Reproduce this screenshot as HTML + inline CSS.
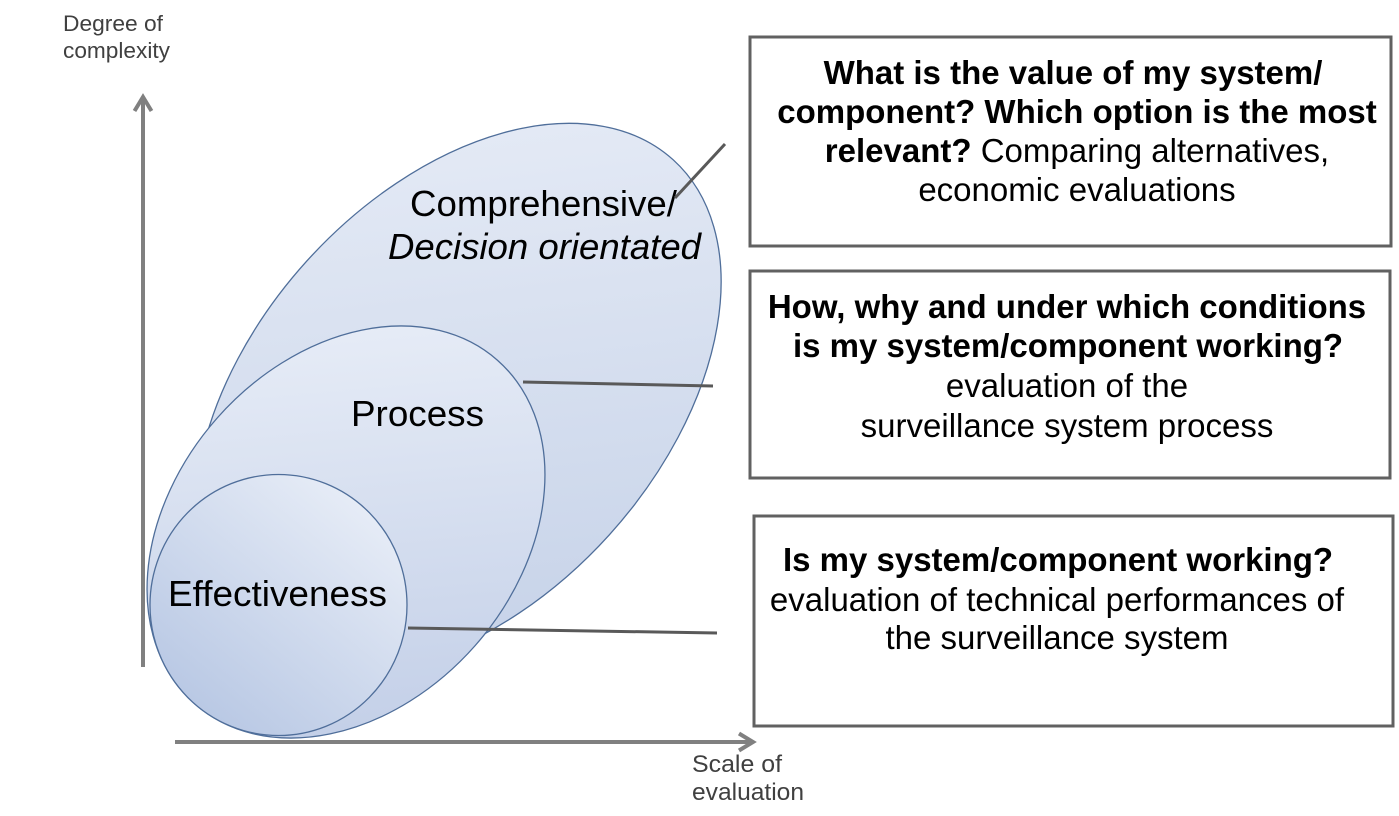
<!DOCTYPE html>
<html>
<head>
<meta charset="utf-8">
<style>
  html,body{margin:0;padding:0;background:#fff;}
  svg{display:block;}
  text{font-family:"Liberation Sans", Arial, sans-serif;}
</style>
</head>
<body>
<svg width="1399" height="816" viewBox="0 0 1399 816" xmlns="http://www.w3.org/2000/svg">
  <defs>
    <linearGradient id="gBig" gradientUnits="userSpaceOnUse" x1="700" y1="150" x2="260" y2="660">
      <stop offset="0" stop-color="#e8edf7"/>
      <stop offset="1" stop-color="#c3d0e7"/>
    </linearGradient>
    <linearGradient id="gProc" gradientUnits="userSpaceOnUse" x1="520" y1="350" x2="170" y2="720">
      <stop offset="0" stop-color="#eaeff8"/>
      <stop offset="1" stop-color="#bfcce6"/>
    </linearGradient>
    <linearGradient id="gEff" gradientUnits="userSpaceOnUse" x1="380" y1="490" x2="190" y2="725">
      <stop offset="0" stop-color="#eaeff8"/>
      <stop offset="1" stop-color="#b6c6e3"/>
    </linearGradient>
  </defs>

  <!-- axes -->
  <g stroke="#808080" stroke-width="4" fill="none" stroke-linecap="butt">
    <line x1="143" y1="667" x2="143" y2="98"/>
    <polyline points="134.5,111 143,97 151.5,111" stroke-linejoin="miter"/>
    <line x1="175" y1="742" x2="752" y2="742"/>
    <polyline points="739,733.5 753,742 739,750.5" stroke-linejoin="miter"/>
  </g>

  <!-- axis labels -->
  <g fill="#404040" font-size="22">
    <text x="63" y="31" textLength="100" lengthAdjust="spacingAndGlyphs">Degree of</text>
    <text x="63" y="58" textLength="107" lengthAdjust="spacingAndGlyphs">complexity</text>
  </g>
  <g fill="#404040" font-size="24">
    <text x="692" y="772" textLength="90" lengthAdjust="spacingAndGlyphs">Scale of</text>
    <text x="692" y="800" textLength="112" lengthAdjust="spacingAndGlyphs">evaluation</text>
  </g>

  <!-- ellipses -->
  <ellipse cx="458" cy="398" rx="321" ry="204" transform="rotate(-47.9 458 398)" fill="url(#gBig)" stroke="#4f6e9a" stroke-width="1.3"/>
  <ellipse cx="346" cy="532" rx="229" ry="172" transform="rotate(-48.6 346 532)" fill="url(#gProc)" stroke="#4f6e9a" stroke-width="1.3"/>
  <ellipse cx="278.5" cy="605" rx="128.5" ry="130.5" fill="url(#gEff)" stroke="#4f6e9a" stroke-width="1.3"/>

  <!-- ellipse labels -->
  <g fill="#000" font-size="36">
    <text x="410" y="216" textLength="267" lengthAdjust="spacingAndGlyphs">Comprehensive/</text>
    <text x="388" y="259" font-style="italic" textLength="313" lengthAdjust="spacingAndGlyphs">Decision orientated</text>
    <text x="351" y="426" textLength="133" lengthAdjust="spacingAndGlyphs">Process</text>
    <text x="168" y="606" textLength="219" lengthAdjust="spacingAndGlyphs">Effectiveness</text>
  </g>

  <!-- connector lines -->
  <g stroke="#595959" stroke-width="3" fill="none">
    <line x1="675" y1="198" x2="725" y2="144"/>
    <line x1="523" y1="382" x2="713" y2="386"/>
    <line x1="408" y1="628" x2="717" y2="633"/>
  </g>

  <!-- boxes -->
  <g fill="#fff" stroke="#616161" stroke-width="3">
    <rect x="750" y="37" width="641" height="209"/>
    <rect x="750" y="271" width="640" height="207"/>
    <rect x="754" y="516" width="639" height="210"/>
  </g>

  <!-- box 1 text -->
  <g fill="#000" font-size="33" text-anchor="middle">
    <text x="1073" y="84" font-weight="bold">What is the value of my system/</text>
    <text x="1077" y="123" font-weight="bold">component? Which option is the most</text>
    <text x="1077" y="162"><tspan font-weight="bold">relevant?</tspan> Comparing alternatives,</text>
    <text x="1077" y="201">economic evaluations</text>
  </g>

  <!-- box 2 text -->
  <g fill="#000" font-size="33" text-anchor="middle">
    <text x="1067" y="318" font-weight="bold">How, why and under which conditions</text>
    <text x="1068" y="357" font-weight="bold">is my system/component working?</text>
    <text x="1067" y="397">evaluation of the</text>
    <text x="1067" y="437">surveillance system process</text>
  </g>

  <!-- box 3 text -->
  <g fill="#000" font-size="33" text-anchor="middle">
    <text x="1058" y="571" font-weight="bold">Is my system/component working?</text>
    <text x="1057" y="611">evaluation of technical performances of</text>
    <text x="1057" y="649">the surveillance system</text>
  </g>
</svg>
</body>
</html>
